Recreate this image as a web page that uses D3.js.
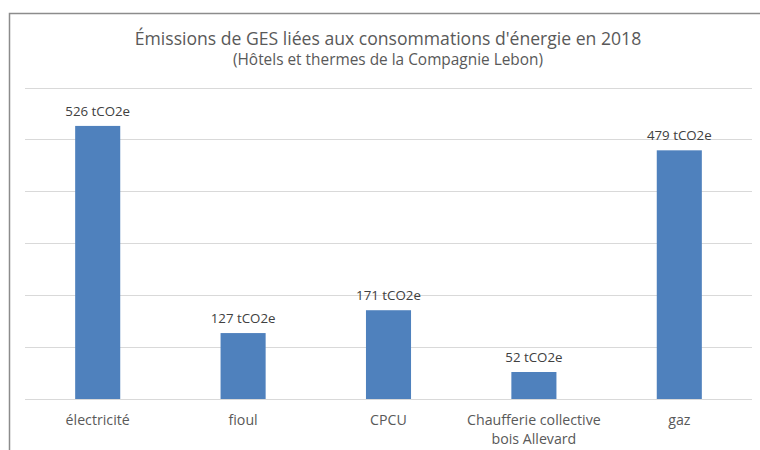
<!DOCTYPE html>
<html>
<head>
<meta charset="utf-8">
<script src="https://cdn.jsdelivr.net/npm/d3@7"></script>
<style>
  body { margin: 0; background: #fff; }
  svg text { font-family: "Open Sans", "Noto Sans", sans-serif; }
</style>
</head>
<body>
<div id="chart"></div>
<script>
// data
var categories = ["électricité", "fioul", "CPCU", "Chaufferie collective|bois Allevard", "gaz"];
var values = [526, 127, 171, 52, 479];
var yTicks = [0, 100, 200, 300, 400, 500, 600];
var unit = " tCO2e";

var W = 760, H = 450;
var svg = d3.select("#chart").append("svg").attr("width", W).attr("height", H);

// frame (only top and left visible in the crop)
svg.append("path").attr("d", "M9.5,450 V13.5 H760")
   .attr("fill", "none").attr("stroke", "#8c8c8c").attr("stroke-width", 1.5);

var x = d3.scaleBand().domain(categories).range([25, 752]).paddingInner(0.69).paddingOuter(0.345);
var y = d3.scaleLinear().domain([0, 600]).range([399, 87.5]);

// gridlines
svg.append("g").selectAll("line").data(yTicks).join("line")
   .attr("x1", 25).attr("x2", 752)
   .attr("y1", function (d) { return Math.round(y(d)) + 0.5; })
   .attr("y2", function (d) { return Math.round(y(d)) + 0.5; })
   .attr("stroke", "#d9d9d9").attr("stroke-width", 1);

// bars
svg.append("g").selectAll("rect").data(values).join("rect")
   .attr("x", function (d, i) { return x(categories[i]); })
   .attr("width", x.bandwidth())
   .attr("y", function (d) { return y(d); })
   .attr("height", function (d) { return y(0) - y(d); })
   .attr("fill", "#4f81bd");

// data labels
svg.append("g").selectAll("text").data(values).join("text")
   .attr("x", function (d, i) { return x(categories[i]) + x.bandwidth() / 2; })
   .attr("y", function (d) { return y(d) - 10; })
   .attr("text-anchor", "middle")
   .attr("font-size", 13.3)
   .attr("fill", "#404040")
   .text(function (d) { return d + unit; });

// category labels
var cat = svg.append("g").selectAll("text").data(categories).join("text")
   .attr("x", function (d) { return x(d) + x.bandwidth() / 2; })
   .attr("y", 425)
   .attr("text-anchor", "middle")
   .attr("font-size", 14.2)
   .attr("fill", "#595959");
cat.each(function (d) {
  var parts = d.split("|");
  var t = d3.select(this);
  parts.forEach(function (p, k) {
    t.append("tspan").attr("x", t.attr("x")).attr("dy", k ? 19 : 0).text(p);
  });
});

// titles
svg.append("text").attr("x", 388).attr("y", 45).attr("text-anchor", "middle")
   .attr("font-size", 17.6).attr("fill", "#595959")
   .text("Émissions de GES liées aux consommations d'énergie en 2018");
svg.append("text").attr("x", 388).attr("y", 64.5).attr("text-anchor", "middle")
   .attr("font-size", 15.4).attr("fill", "#595959")
   .text("(Hôtels et thermes de la Compagnie Lebon)");
</script>
</body>
</html>
